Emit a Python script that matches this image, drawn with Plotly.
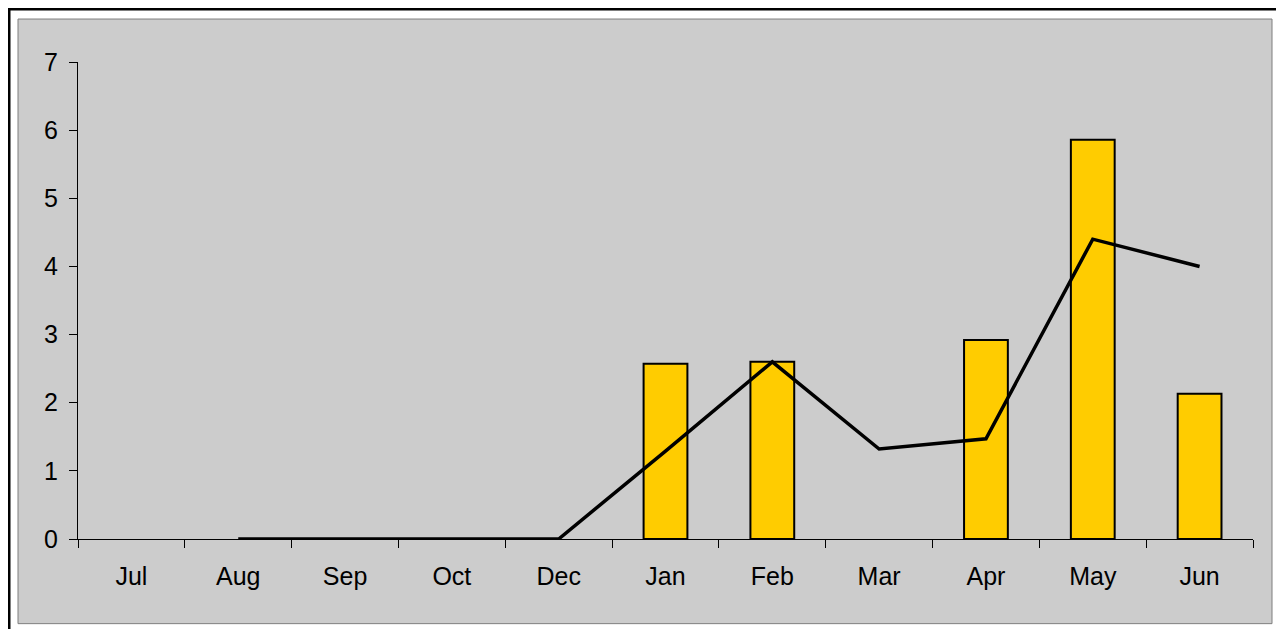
import plotly.graph_objects as go

months = ["Jul", "Aug", "Sep", "Oct", "Dec", "Jan", "Feb", "Mar", "Apr", "May", "Jun"]
bar_values = [None, None, None, None, None, 2.57, 2.60, None, 2.92, 5.86, 2.13]
line_values = [None, 0, 0, 0, 0, 1.29, 2.60, 1.32, 1.47, 4.40, 4.00]
y_ticks = [0, 1, 2, 3, 4, 5, 6, 7]

# the page body adds an 8px margin, so the figure is drawn from (8, 8)
OFF = 8
W, H = 1284 - OFF, 629 - OFF
L, R, T, B = 78 - OFF, 1253 - OFF, 62 - OFF, 539.3 - OFF
pw, ph = R - L, B - T

def px(x):
    return (x - OFF - L) / pw

def py(y):
    return (B - (y - OFF)) / ph

fig = go.Figure()
fig.add_trace(go.Bar(
    x=months, y=bar_values,
    marker=dict(color="#FFCC00", line=dict(color="black", width=2)),
    showlegend=False,
))
fig.add_trace(go.Scatter(
    x=months, y=line_values, mode="lines",
    line=dict(color="black", width=3.5),
    showlegend=False,
))

shapes = [
    # gray chart panel
    dict(type="rect", xref="paper", yref="paper", layer="below",
         x0=px(18), x1=px(1272), y0=py(624), y1=py(19),
         fillcolor="#CCCCCC", line=dict(color="#7F7F7F", width=1)),
    # outer black frame
    dict(type="rect", xref="paper", yref="paper", layer="below",
         x0=px(9), x1=px(1300), y0=py(650), y1=py(9),
         fillcolor="rgba(0,0,0,0)", line=dict(color="black", width=3)),
]

fig.update_layout(
    width=W, height=H,
    margin=dict(l=L, r=W - R, t=T, b=H - B, pad=0),
    paper_bgcolor="white",
    plot_bgcolor="#CCCCCC",
    bargap=0.59,
    font=dict(family="Liberation Sans, Arial, sans-serif", size=25, color="black"),
    shapes=shapes,
    xaxis=dict(
        type="category", tickson="boundaries",
        showline=True, linecolor="black", linewidth=1,
        ticks="outside", ticklen=8, tickcolor="black", tickwidth=1,
        showgrid=False, zeroline=False,
        tickfont=dict(size=25),
        ticklabelstandoff=15,
    ),
    yaxis=dict(
        range=[0, 7], tickvals=y_ticks,
        showline=True, linecolor="black", linewidth=1,
        ticks="outside", ticklen=8, tickcolor="black", tickwidth=1,
        showgrid=False, zeroline=False,
        tickfont=dict(size=25),
        ticklabelstandoff=6,
    ),
)

fig.write_html("out.html")
